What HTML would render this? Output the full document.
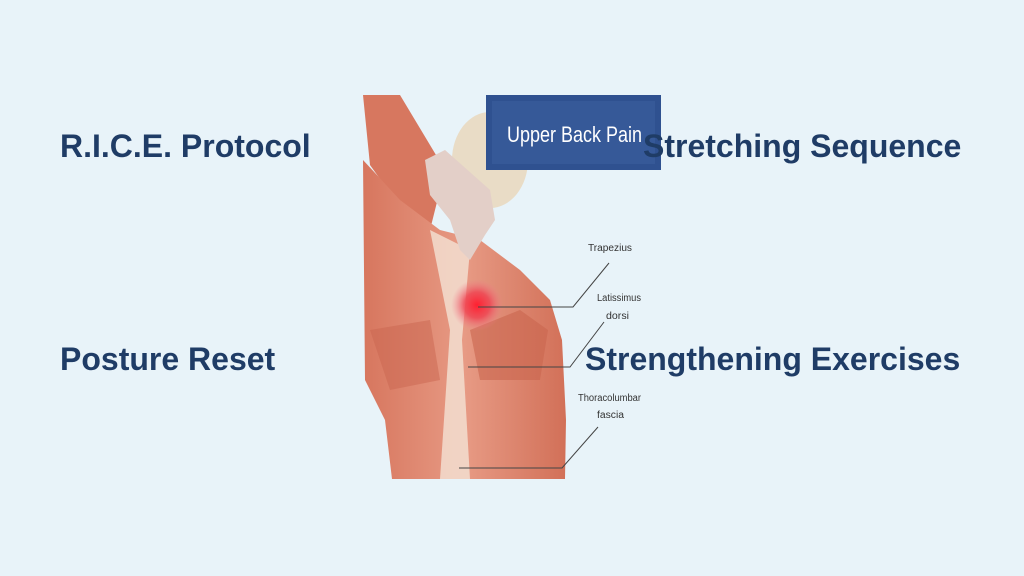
<!DOCTYPE html>
<html><head><meta charset="utf-8"><style>
body{margin:0;width:1024px;height:576px;background:#e8f3f9;position:relative;overflow:hidden;font-family:"Liberation Sans",Arial,sans-serif}
.t{position:absolute;font-weight:bold;font-size:32px;color:#1f3c66;white-space:nowrap;line-height:1}
</style></head><body>
<svg width="1024" height="576" style="position:absolute;left:0;top:0">
<defs>
<radialGradient id="r"><stop offset="0" stop-color="#ff2030"/><stop offset="0.5" stop-color="#f04050" stop-opacity="0.8"/><stop offset="1" stop-color="#f08090" stop-opacity="0"/></radialGradient>
<linearGradient id="m" x1="0" x2="1"><stop offset="0" stop-color="#d7765e"/><stop offset="0.5" stop-color="#e79a84"/><stop offset="1" stop-color="#d27058"/></linearGradient>
</defs>
<ellipse cx="490" cy="160" rx="38" ry="48" fill="#e9dcc6"/>
<path d="M363 95 L400 95 L445 170 L430 230 L395 200 L370 165 Z" fill="#d7775f"/>
<path d="M363 160 L400 200 L440 230 L480 240 L520 270 L550 300 L562 340 L566 420 L565 479 L392 479 L385 420 L365 380 Z" fill="url(#m)"/>
<path d="M430 230 L450 330 L440 479 L470 479 L462 340 L470 250 Z" fill="#f4e2d4" opacity="0.8"/>
<path d="M470 330 L520 310 L548 330 L540 380 L480 380 Z" fill="#c9664f" opacity="0.6"/>
<path d="M370 330 L430 320 L440 380 L390 390 Z" fill="#c9664f" opacity="0.5"/>
<path d="M425 160 L445 150 L490 190 L495 220 L485 235 L470 260 L460 250 L450 220 L430 195 Z" fill="#e3cfc8"/>
<circle cx="477" cy="305" r="26" fill="url(#r)"/>
<g stroke="#444" stroke-width="1" fill="none">
<polyline points="478,307 573,307 609,263"/>
<polyline points="468,367 570,367 604,322"/>
<polyline points="459,468 562,468 598,427"/>
</g>
<g font-family="Liberation Sans,sans-serif" font-size="10" fill="#333">
<text x="588" y="251" textLength="44" lengthAdjust="spacingAndGlyphs">Trapezius</text>
<text x="597" y="301" textLength="44" lengthAdjust="spacingAndGlyphs">Latissimus</text>
<text x="606" y="319" textLength="23" lengthAdjust="spacingAndGlyphs">dorsi</text>
<text x="578" y="401" textLength="63" lengthAdjust="spacingAndGlyphs">Thoracolumbar</text>
<text x="597" y="418" textLength="27" lengthAdjust="spacingAndGlyphs">fascia</text>
</g>
<rect x="486" y="95" width="175" height="75" fill="#2f5190"/>
<rect x="492" y="101" width="163" height="63" fill="#3d62a0" opacity="0.5"/>
<text x="507" y="142" font-size="22" fill="#fff" textLength="135" lengthAdjust="spacingAndGlyphs">Upper Back Pain</text>
</svg>
<div class="t" style="left:60px;top:130px">R.I.C.E. Protocol</div>
<div class="t" style="left:643px;top:130px">Stretching Sequence</div>
<div class="t" style="left:60px;top:343px">Posture Reset</div>
<div class="t" style="left:585px;top:343px">Strengthening Exercises</div>
</body></html>
